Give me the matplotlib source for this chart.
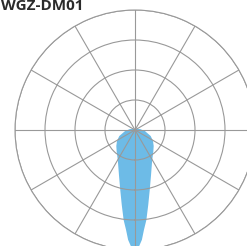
import numpy as np
import matplotlib.pyplot as plt

# beam pattern, angle measured from straight down (deg) and intensity (same units as ring scale)
angles = [0, 2.1, 3.6, 5.1, 7.2, 10, 13.8, 19.6, 29.8, 39.8, 49.4, 58.6, 69, 84, 101, 180]
intensity = [120, 116, 110, 100.4, 90.7, 76.2, 61.8, 47.8, 34.6, 28.6, 24.6, 21.1, 16.8, 10, 5.1, 1.3]
rings = [30, 60, 90, 120]
title = "WGZ-DM01"

grid_col = "#999999"
fill_col = "#6dbbe7"

fig = plt.figure(figsize=(2.47, 2.46), dpi=100)
ax = fig.add_axes([15 / 247, -4 / 246, 240 / 247, 240 / 246], projection="polar")

# mirror the half pattern to both sides of the downward axis
a = np.array(angles)
r = np.array(intensity)
theta = np.deg2rad(np.concatenate([-a[::-1], a[1:]]))
rad = np.concatenate([r[::-1], r[1:]])

ax.set_theta_zero_location("S")
ax.fill(theta, rad, color=fill_col, lw=0, zorder=1)

ax.set_ylim(0, rings[-1])
ax.set_yticks(rings)
ax.set_xticks(np.deg2rad(np.arange(0, 360, 30)))
ax.set_xticklabels([])
ax.set_yticklabels([])
ax.set_axisbelow(False)
ax.grid(True, color=grid_col, lw=0.8)
ax.spines["polar"].set_color(grid_col)
ax.spines["polar"].set_linewidth(0.8)
ax.tick_params(length=0)

fig.text(1 / 247, (246 - 10) / 246, title, ha="left", va="baseline",
         fontsize=11, fontweight="bold", family=["Open Sans", "DejaVu Sans"],
         color="#2b2b2b")

fig.savefig("out.png", dpi=100)
